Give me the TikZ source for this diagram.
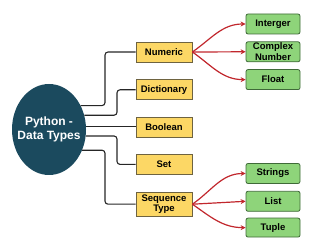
\documentclass[tikz,border=0pt]{standalone}
\usepackage{fontspec}
\setmainfont{Liberation Sans}
\usetikzlibrary{arrows.meta,positioning,shapes.geometric}
\definecolor{ptteal}{HTML}{1B4A5E}
\definecolor{ptyellow}{HTML}{FCD765}
\definecolor{ybord}{HTML}{6E6340}
\definecolor{ptgreen}{HTML}{8ED47A}
\definecolor{gbord}{HTML}{3F6A38}
\definecolor{ptred}{HTML}{C1272D}

\begin{document}
\begin{tikzpicture}[x=1pt,y=1pt,every node/.style={font=\fontsize{9.5}{10.5}\selectfont\bfseries,align=center,inner sep=1pt},ybox/.style={draw=ybord,fill=ptyellow,minimum width=56pt,minimum height=20pt,line width=0.8pt},gbox/.style={draw=gbord,fill=ptgreen,rounded corners=2pt,minimum width=54pt,minimum height=20pt,line width=0.8pt},conn/.style={draw=black!85,line width=1.1pt,rounded corners=3pt},arr/.style={-{Stealth[length=5pt,width=5pt]},ptred,line width=1.2pt}]
\useasboundingbox (0,0) rectangle (320,240);
\node[ellipse,fill=ptteal,inner sep=0pt,minimum width=74pt,minimum height=91pt] (dt) at (49,110.5) {};
\node[text=white,font=\fontsize{12}{14}\selectfont\bfseries] (dtl) at (dt.center) {Python -\\Data Types};
\node[ybox] (num) at (164,188) {Numeric};
\node[ybox,below=17pt of num] (dict) {Dictionary};
\node[ybox,below=17pt of dict] (bool) {Boolean};
\node[ybox,below=16pt of bool] (set) {Set};
\node[ybox,minimum height=24pt,below=17pt of set] (seq) {Sequence\\Type};
\node[gbox] (int) at (273,216) {Interger};
\node[gbox,below=7pt of int] (cplx) {Complex\\Number};
\node[gbox,below=7pt of cplx] (flt) {Float};
\node[gbox] (strs) at (273,66.5) {Strings};
\node[gbox,below=7pt of strs] (lst) {List};
\node[gbox,minimum height=19pt,below=6pt of lst] (tup) {Tuple};
\coordinate (c1) at (105,0); \coordinate (c2) at (117,0);
\draw[conn] (dt.37) -| (c1 |- num) -- (num.west);
\draw[conn] (dt.22) -| (c2 |- dict) -- (dict.west);
\draw[conn] (dt.5) -- (dt.5 -| bool.west);
\draw[conn] (dt.-10) -| (c2 |- set) -- (set.west);
\draw[conn] (dt.-32) -| (c1 |- seq) -- (seq.west);
\draw[arr] (num.east) to[out=35,in=180] (int.west);
\draw[arr] (num.east) -- (cplx.west);
\draw[arr] (num.east) to[out=-35,in=180] (flt.west);
\draw[arr] (seq.east) to[out=35,in=180] (strs.west);
\draw[arr] (seq.east) -- (lst.west);
\draw[arr] (seq.east) to[out=-35,in=180] (tup.west);
\end{tikzpicture}
\end{document}
